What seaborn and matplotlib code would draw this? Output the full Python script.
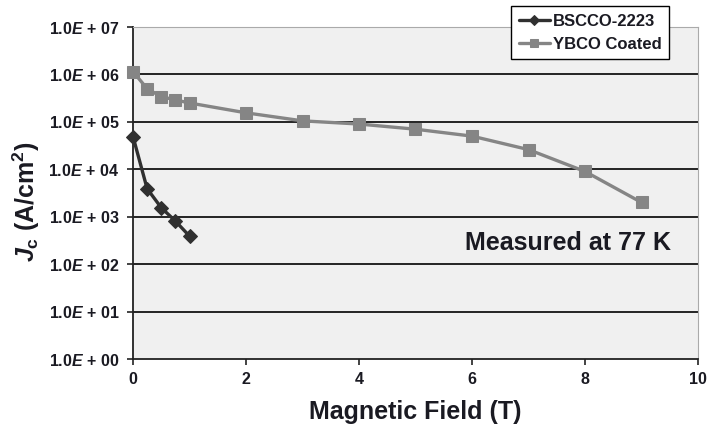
import numpy as np
import pandas as pd
import matplotlib
matplotlib.use("Agg")
import matplotlib.pyplot as plt
import seaborn as sns

bscco_field = [0, 0.25, 0.5, 0.75, 1.0]
bscco_jc = [4.9e4, 3.9e3, 1.55e3, 8.1e2, 3.9e2]
ybco_field = [0, 0.25, 0.5, 0.75, 1, 2, 3, 4, 5, 6, 7, 8, 9]
ybco_jc = [1.15e6, 5.0e5, 3.4e5, 2.9e5, 2.5e5, 1.55e5, 1.05e5, 9.0e4, 7.0e4, 5.0e4, 2.6e4, 9.0e3, 2.0e3]
ytick_vals = [1e0, 1e1, 1e2, 1e3, 1e4, 1e5, 1e6, 1e7]
ytick_labels = [r"1.0$\it{E}$ + 0%d" % i for i in range(8)]
xticks = [0, 2, 4, 6, 8, 10]

sns.set_style("white")
plt.rcParams['font.family'] = ['Liberation Sans', 'DejaVu Sans']
plt.rcParams['mathtext.fontset'] = 'custom'
plt.rcParams['mathtext.it'] = 'Liberation Sans:italic:bold'
plt.rcParams['mathtext.rm'] = 'Liberation Sans:bold'

txt = "#1a1a22"

df = pd.concat([
    pd.DataFrame({"field": bscco_field, "jc": bscco_jc, "series": "BSCCO-2223"}),
    pd.DataFrame({"field": ybco_field, "jc": ybco_jc, "series": "YBCO Coated"}),
])

fig = plt.figure(figsize=(7.07, 4.26), dpi=100)
ax = fig.add_axes([133/707, 1 - 359/426, (698-133)/707, (359-27)/426])
ax.set_facecolor("#f0f0f0")

sns.lineplot(data=df[df.series == "BSCCO-2223"], x="field", y="jc", ax=ax,
             color="#303030", lw=2.4, marker="D", markersize=7,
             markeredgecolor="#303030", label="BSCCO-2223", zorder=4, clip_on=False)
sns.lineplot(data=df[df.series == "YBCO Coated"], x="field", y="jc", ax=ax,
             color="#858585", lw=2.4, marker="s", markersize=9,
             markeredgecolor="#858585", label="YBCO Coated", zorder=3, clip_on=False)

ax.set_yscale("log")
ax.set_ylim(1, 1e7)
ax.set_xlim(0, 10)
ax.set_yticks(ytick_vals)
ax.set_yticklabels(ytick_labels)
ax.minorticks_off()
ax.set_xticks(xticks)
ax.set_xticklabels([str(v) for v in xticks])
for t in ax.get_yticklabels() + ax.get_xticklabels():
    t.set_fontweight("bold")
    t.set_fontsize(11.5)
    t.set_color(txt)

for y in ytick_vals[1:-1]:
    ax.axhline(y, color="black", lw=1.2, zorder=1)

ax.spines["left"].set_color("#222222")
ax.spines["bottom"].set_color("#222222")
ax.spines["left"].set_linewidth(1.3)
ax.spines["bottom"].set_linewidth(1.3)
ax.spines["top"].set_color("#aaaaaa")
ax.spines["right"].set_color("#aaaaaa")
ax.tick_params(axis="both", direction="out", length=4, width=1.2, color="#222222",
               left=True, bottom=True)
ax.tick_params(axis="y", pad=6)
ax.tick_params(axis="x", pad=5)

ax.set_xlabel("Magnetic Field (T)", fontsize=18, fontweight="bold", labelpad=10, color=txt)
ax.set_ylabel(r"$\it{J}_{\rm c}$ (A/cm$^{2}$)", fontsize=18, fontweight="bold", color=txt)
ax.yaxis.set_label_coords(-91/565, 0.475)

ax.text(0.953, 0.35, "Measured at 77 K", transform=ax.transAxes, ha="right", va="center",
        fontsize=18, fontweight="bold", color=txt)

leg = ax.legend(loc="upper right", bbox_to_anchor=(669/707, 1 - 6/426),
                bbox_transform=fig.transFigure, frameon=True, fancybox=False,
                prop={"weight": "bold", "size": 12},
                handlelength=1.9, handletextpad=0.15, borderpad=0.45, labelspacing=0.5,
                borderaxespad=0, markerscale=0.7)
leg.get_frame().set_edgecolor("black")
leg.get_frame().set_linewidth(1.0)
leg.get_frame().set_facecolor("white")
leg.get_frame().set_alpha(1)
leg.set_zorder(10)
for t in leg.get_texts():
    t.set_color(txt)

fig.savefig("out.png", dpi=100)
